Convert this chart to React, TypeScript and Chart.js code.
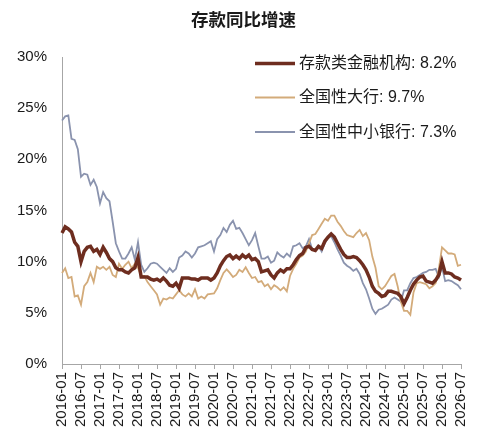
import { useEffect, useRef } from "react";
import { Chart, registerables } from "chart.js";

Chart.register(...registerables);

// Categories: monthly, 2016-01 .. 2026-07
const months: string[] = [];
for (let y = 2016; y <= 2026; y++) {
  for (let m = 1; m <= 12; m++) {
    if (y === 2026 && m > 7) break;
    months.push(`${y}-${String(m).padStart(2, "0")}`);
  }
}

const chartTitle = "存款同比增速";
const seriesNames = ["存款类金融机构", "全国性大行", "全国性中小银行"];

const depositInstitutions = [
  12.8, 13.4, 13.2, 12.9, 11.9, 11.5, 10.0, 11.0, 11.4, 11.5, 11.0, 11.2,
  10.7, 11.4, 10.9, 10.3, 10.0, 9.4, 9.2, 9.2, 9.0, 8.9, 9.2, 9.4,
  10.4, 8.5, 8.5, 8.5, 8.3, 8.2, 8.3, 8.1, 8.4, 8.1, 7.7, 7.6,
  7.9, 7.4, 8.4, 8.4, 8.4, 8.3, 8.3, 8.2, 8.4, 8.4, 8.4, 8.2,
  8.4, 8.9, 9.6, 10.1, 10.5, 10.65, 10.3, 10.55, 10.3, 10.65, 10.4, 10.65,
  10.2, 10.3, 10.0, 9.0, 9.1, 9.2, 8.7, 8.4, 8.9, 9.2, 9.0, 9.3,
  9.3, 9.7, 10.2, 10.6, 10.8, 11.4, 11.5, 11.2, 11.1, 11.5, 11.3, 12.0,
  12.4, 12.7, 12.4, 11.8, 11.2, 10.7, 10.4, 10.4, 10.5, 10.4, 10.1, 9.7,
  9.2, 8.5, 7.6, 7.1, 6.9, 6.6, 6.7, 7.1, 7.1, 7.0, 6.9, 6.6,
  5.9, 6.5, 7.2, 7.8, 8.2, 8.5, 8.6, 8.1, 8.0, 7.9, 8.2, 8.7,
  10.0, 8.9, 8.9, 8.8, 8.5, 8.4, 8.2,
];

const largeBanks = [
  8.9, 9.35, 8.4, 8.5, 6.6, 6.7, 5.8, 7.6, 8.0, 8.9, 8.0, 9.5,
  9.3, 9.5, 9.2, 9.5, 8.7, 8.5, 9.8, 9.3, 9.7, 10.0, 9.35, 9.8,
  9.4, 8.6, 8.6, 8.0, 7.6, 7.2, 6.8, 5.8, 6.4, 6.3, 6.5, 6.4,
  6.8, 7.2, 6.8, 6.6, 6.9, 6.6, 7.3, 6.4, 6.6, 6.4, 6.8, 6.85,
  6.9, 7.4, 8.2, 8.9, 9.25, 8.9, 8.5, 8.7, 9.2, 9.0, 9.45, 8.9,
  8.4, 8.5, 8.0, 8.1, 7.6, 7.8, 7.3, 7.7, 7.5, 7.2, 7.5, 7.1,
  8.6, 9.3, 9.8, 10.4, 10.6, 11.0, 11.8, 12.6, 12.7, 13.2, 13.7, 14.2,
  14.0, 14.5, 14.5, 13.9, 13.5, 13.0, 12.6, 12.5, 12.4, 12.8, 13.1, 12.5,
  12.8, 12.1, 10.5, 9.4, 7.6, 7.3, 7.6, 8.1, 8.6, 8.8, 7.6, 6.1,
  5.2, 5.2, 4.8, 7.0, 7.9, 8.0, 7.9, 7.8, 7.4, 7.6, 7.9, 9.3,
  11.4, 11.1, 10.8, 10.8, 10.7, 9.6, 9.7,
];

const midSmallBanks = [
  23.8, 24.2, 24.3, 22.0, 21.9, 21.0, 18.3, 18.6, 18.5, 17.5, 18.0, 17.3,
  15.7, 16.8, 16.2, 15.9, 13.9, 11.8, 11.0, 10.3, 10.3, 10.8, 11.4, 10.2,
  11.9, 9.7, 9.0, 9.35, 9.8, 9.9, 9.8, 9.5, 9.2, 8.9, 9.35, 9.0,
  9.3, 10.4, 10.6, 11.0, 10.8, 10.4, 10.8, 11.4, 11.5, 11.6, 11.8, 12.0,
  11.0, 12.2, 12.6, 13.3, 12.9, 13.6, 14.0, 13.2, 13.3, 12.8, 12.2, 11.6,
  12.1, 12.8, 11.5, 10.3, 10.3, 10.5, 9.9, 10.1, 10.9, 10.6, 10.4, 10.8,
  10.5, 11.5, 11.6, 11.8, 11.3, 11.5, 12.2, 11.2, 11.1, 11.5, 11.0, 11.8,
  12.3, 12.5, 11.9, 11.2, 10.6, 9.9, 9.6, 9.4, 9.1, 9.3, 8.8, 7.9,
  7.3, 6.4, 5.4, 4.9, 5.3, 5.4, 5.6, 5.8, 6.3, 6.5, 6.3, 6.1,
  7.2, 7.2, 7.9, 8.4, 8.5, 8.7, 8.9, 9.0, 9.2, 9.2, 9.3, 8.5,
  9.5, 8.1, 8.2, 8.1, 7.9, 7.7, 7.3,
];

const seriesColors = ["#6E2D1F", "#D3AB7A", "#8A93AE"];
const seriesWidths = [3.5, 1.8, 1.8];

const FONT = '"Liberation Sans", "Noto Sans CJK SC", Arial, sans-serif';

const titleAndLegendPlugin = {
  id: "titleAndLegend",
  afterDraw(chart: any) {
    const { ctx, chartArea, width } = chart;
    // title
    ctx.save();
    ctx.fillStyle = "#1a1a1a";
    ctx.font = `bold 17.5px ${FONT}`;
    ctx.textAlign = "center";
    ctx.textBaseline = "middle";
    ctx.fillText(chartTitle, width / 2 + 2, 21);
    ctx.restore();

    // legend inside plot area
    const x0 = chartArea.left + 193;
    const rows = [chartArea.top + 6.5, chartArea.top + 40.5, chartArea.top + 75];
    chart.data.datasets.forEach((ds: any, i: number) => {
      const y = rows[i];
      ctx.save();
      ctx.strokeStyle = ds.borderColor;
      ctx.lineWidth = ds.borderWidth;
      ctx.beginPath();
      ctx.moveTo(x0, y);
      ctx.lineTo(x0 + 40, y);
      ctx.stroke();
      ctx.fillStyle = "#1a1a1a";
      ctx.font = `16px ${FONT}`;
      ctx.textBaseline = "middle";
      ctx.textAlign = "left";
      const last = ds.data[ds.data.length - 1];
      ctx.fillText(`${ds.label}: ${last.toFixed(1)}%`, x0 + 44, y + 0.5);
      ctx.restore();
    });
  },
};

export default function App() {
  const ref = useRef<HTMLCanvasElement | null>(null);

  useEffect(() => {
    if (!ref.current) return;
    const data = [depositInstitutions, largeBanks, midSmallBanks];
    const chart = new Chart(ref.current, {
      type: "line",
      data: {
        labels: months,
        datasets: seriesNames.map((name, i) => ({
          label: name,
          data: data[i],
          borderColor: seriesColors[i],
          backgroundColor: seriesColors[i],
          borderWidth: seriesWidths[i],
          pointRadius: 0,
          tension: 0,
          fill: false,
        })),
      },
      options: {
        animation: false,
        responsive: true,
        maintainAspectRatio: false,
        layout: { padding: { top: 57, right: 22, bottom: 0, left: 0 } },
        plugins: {
          legend: { display: false },
          tooltip: { enabled: false },
          title: { display: false },
        },
        scales: {
          x: {
            type: "category",
            offset: false,
            grid: {
              display: true,
              drawOnChartArea: false,
              drawTicks: true,
              tickLength: 5,
              color: "#a6a6a6",
            },
            border: { display: true, color: "#a6a6a6", width: 1 },
            ticks: {
              autoSkip: false,
              maxRotation: 90,
              minRotation: 90,
              padding: 3,
              color: "#1a1a1a",
              font: { size: 15, family: FONT },
              callback: (_v: any, index: number) =>
                index % 6 === 0 ? months[index] : null,
            },
            afterFit: (scale: any) => {
              scale.height = 77;
            },
          },
          y: {
            min: 0,
            max: 30,
            grid: { display: true, drawOnChartArea: false, drawTicks: false },
            border: { display: true, color: "#a6a6a6", width: 1 },
            ticks: {
              stepSize: 5,
              padding: 15,
              color: "#1a1a1a",
              font: { size: 15, family: FONT },
              callback: (v: any) => `${v}%`,
            },
            afterFit: (scale: any) => {
              scale.width = 62;
            },
          },
        },
      },
      plugins: [titleAndLegendPlugin],
    });
    return () => chart.destroy();
  }, []);

  return (
    <div
      style={{
        position: "fixed",
        left: 0,
        top: 0,
        width: 483,
        height: 441,
        background: "#fff",
      }}
    >
      <canvas ref={ref} />
    </div>
  );
}
